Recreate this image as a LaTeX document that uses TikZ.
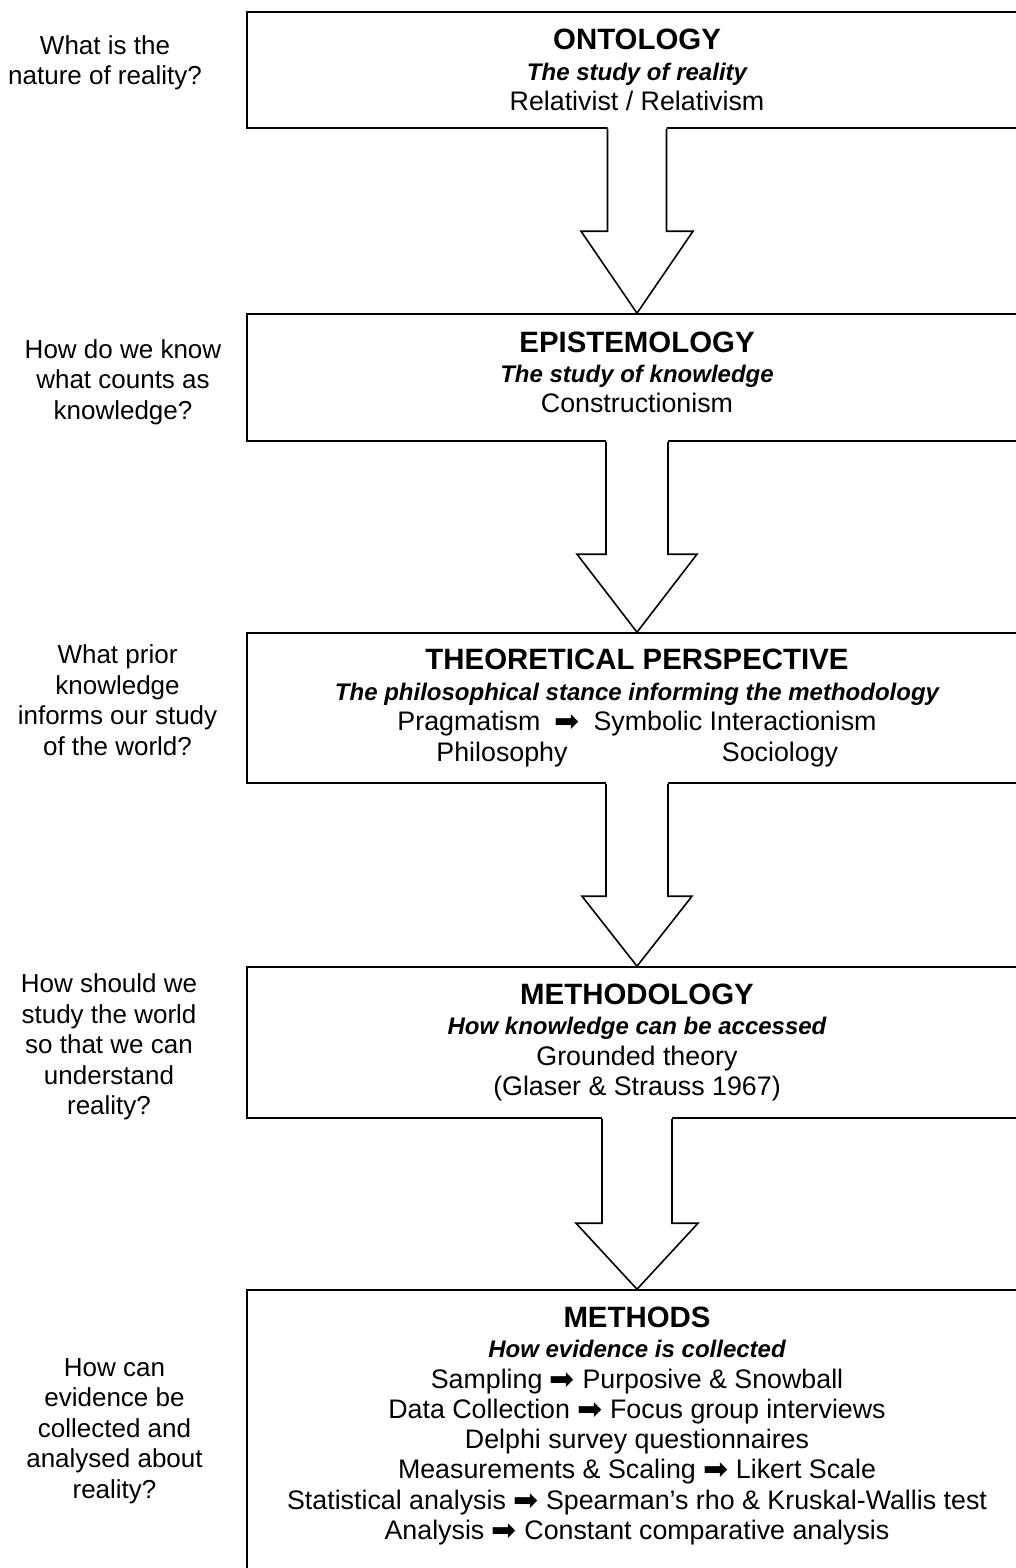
\documentclass[tikz,border=0pt]{standalone}
\usepackage{fontspec}
\setmainfont{Liberation Sans}
\newfontfamily\arrowfont{DejaVu Sans}
\usetikzlibrary{calc}
\newcommand\rarr{{\arrowfont\fontsize{30}{30}\selectfont\raisebox{-1pt}{➡}}}
\newcommand\hdg[1]{{\fontsize{29.4}{30.5}\selectfont\bfseries #1}}
\newcommand\subt[1]{{\fontsize{24}{30.5}\selectfont\bfseries\itshape #1}}
\tikzset{
  box/.style={draw, line width=1.6pt, minimum width=780pt, inner sep=0pt, align=center,
    font=\fontsize{26.8}{30.5}\selectfont},
  btext/.style={align=center, inner sep=0pt, font=\fontsize{26.8}{30.3}\selectfont},
  ques/.style={align=center, inner sep=0pt, font=\fontsize{26}{30.5}\selectfont},
  blk/.style={line width=1.6pt, line join=miter},
}
% #1 from box, #2 to box, #3 shaft half width, #4 head half width, #5 head length
\newcommand\blockarrow[5]{%
  \fill[white] ($(#1.south)+(-#3,-2)$) -- ($(#2.north)+(-#3,-#5)$) -- ($(#2.north)+(-#4,-#5)$)
     -- (#2.north) -- ($(#2.north)+(#4,-#5)$) -- ($(#2.north)+(#3,-#5)$) -- ($(#1.south)+(#3,-2)$) -- cycle;
  \draw[blk] ($(#1.south)+(-#3,0)$) -- ($(#2.north)+(-#3,-#5)$) -- ($(#2.north)+(-#4,-#5)$)
     -- (#2.north) -- ($(#2.north)+(#4,-#5)$) -- ($(#2.north)+(#3,-#5)$) -- ($(#1.south)+(#3,0)$);
}
\begin{document}
\begin{tikzpicture}[x=1pt,y=-1pt]
\useasboundingbox (0,0) rectangle (1016,1568);
\fill[white] (0,0) rectangle (1016,1568);

% boxes
\node[box, minimum height=116pt] (b1) at (637,70)
  {\hdg{ONTOLOGY}\\ \subt{The study of reality}\\ Relativist / Relativism};
\node[box, minimum height=127pt] (b2) at (637,377.5) {};
\node[btext] (t2) at (637,372.5)
  {\hdg{EPISTEMOLOGY}\\ \subt{The study of knowledge}\\ Constructionism};
\node[box, minimum height=150pt] (b3) at (637,708)
  {\hdg{THEORETICAL PERSPECTIVE}\\ \subt{The philosophical stance informing the methodology}\\
   Pragmatism\hspace{14pt}\rarr\hspace{14pt}Symbolic Interactionism\\
   \makebox[286pt]{Philosophy}\makebox[270pt]{Sociology}};
\node[box, minimum height=151pt] (b4) at (637,1042.5)
  {\hdg{METHODOLOGY}\\ \subt{How knowledge can be accessed}\\ Grounded theory\\ (Glaser \& Strauss 1967)};
\node[box, minimum height=285pt] (b5) at (637,1432.5) {};
\node[btext] (t5) at (637,1426)
  {\hdg{METHODS}\\ \subt{How evidence is collected}\\
   Sampling \rarr{} Purposive \& Snowball\\
   Data Collection \rarr{} Focus group interviews\\
   Delphi survey questionnaires\\
   Measurements \& Scaling \rarr{} Likert Scale\\
   Statistical analysis \rarr{} Spearman’s rho \& Kruskal-Wallis test\\
   Analysis \rarr{} Constant comparative analysis};

% block arrows
\blockarrow{b1}{b2}{29.5}{56}{82}
\blockarrow{b2}{b3}{31}{60}{78}
\blockarrow{b3}{b4}{31}{55}{70}
\blockarrow{b4}{b5}{35}{61}{66}

% questions
\node[ques] (q1) at (105,63) {What is the\\ nature of reality?};
\node[ques] (q2) at (123,382) {How do we know\\ what counts as\\ knowledge?};
\node[ques] (q3) at (117.5,700) {What prior\\ knowledge\\ informs our study\\ of the world?};
\node[ques] (q4) at (109,1047) {How should we\\ study the world\\ so that we can\\ understand\\ reality?};
\node[ques] (q5) at (114.5,1431) {How can\\ evidence be\\ collected and\\ analysed about\\ reality?};
\end{tikzpicture}
\end{document}
